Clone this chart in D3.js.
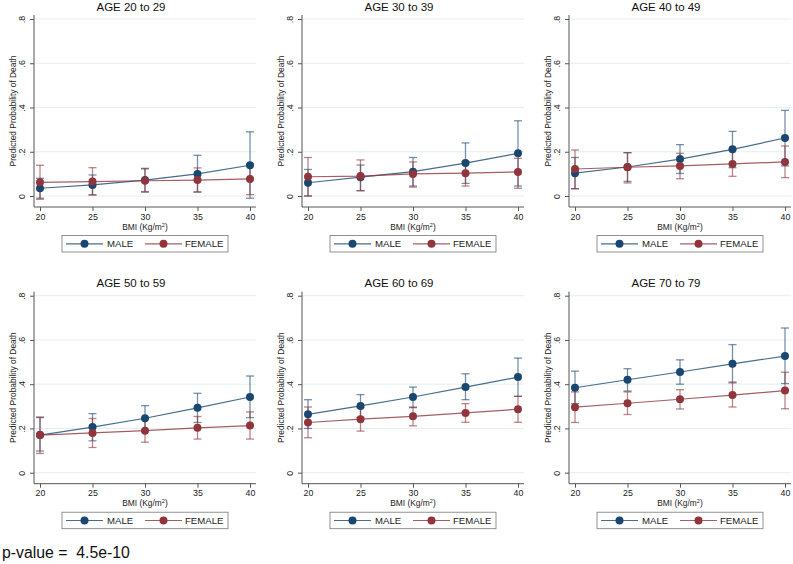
<!DOCTYPE html>
<html>
<head>
<meta charset="utf-8">
<script src="https://cdn.jsdelivr.net/npm/d3@7"></script>
<style>
  html, body { margin: 0; padding: 0; background: #fff; }
  svg { display: block; font-family: "Liberation Sans", Arial, sans-serif; }
</style>
</head>
<body>
<svg id="chart" width="793" height="564"></svg>
<script>
// ---------- DATA ----------
const bmi = [20, 25, 30, 35, 40];
const panelTitles = ["AGE 20 to 29", "AGE 30 to 39", "AGE 40 to 49", "AGE 50 to 59", "AGE 60 to 69", "AGE 70 to 79"];
const yTicks = [0, 0.2, 0.4, 0.6, 0.8];
const seriesNames = ["MALE", "FEMALE"];

const maleEst = [
  [0.035, 0.050, 0.072, 0.100, 0.139],
  [0.060, 0.085, 0.110, 0.149, 0.193],
  [0.103, 0.131, 0.167, 0.211, 0.262],
  [0.170, 0.206, 0.246, 0.293, 0.342],
  [0.264, 0.302, 0.342, 0.387, 0.432],
  [0.384, 0.420, 0.455, 0.492, 0.527]
];
const maleLo = [
  [-0.010, 0.005, 0.020, 0.018, -0.010],
  [0.000, 0.024, 0.045, 0.057, 0.045],
  [0.033, 0.066, 0.102, 0.128, 0.136],
  [0.098, 0.144, 0.189, 0.227, 0.249],
  [0.200, 0.250, 0.294, 0.330, 0.345],
  [0.312, 0.369, 0.400, 0.406, 0.403]
];
const maleHi = [
  [0.080, 0.095, 0.125, 0.184, 0.290],
  [0.120, 0.140, 0.174, 0.240, 0.340],
  [0.174, 0.196, 0.232, 0.292, 0.387],
  [0.249, 0.267, 0.303, 0.359, 0.437],
  [0.330, 0.353, 0.387, 0.447, 0.518],
  [0.459, 0.470, 0.510, 0.579, 0.654]
];
const femaleEst = [
  [0.062, 0.065, 0.069, 0.072, 0.077],
  [0.087, 0.090, 0.100, 0.103, 0.109],
  [0.122, 0.130, 0.136, 0.145, 0.154],
  [0.170, 0.180, 0.190, 0.203, 0.213],
  [0.227, 0.242, 0.255, 0.270, 0.287],
  [0.296, 0.314, 0.332, 0.351, 0.371]
];
const femaleLo = [
  [-0.015, 0.005, 0.017, 0.018, 0.006],
  [0.000, 0.024, 0.040, 0.045, 0.035],
  [0.033, 0.059, 0.078, 0.089, 0.083],
  [0.087, 0.114, 0.138, 0.152, 0.152],
  [0.158, 0.188, 0.212, 0.228, 0.228],
  [0.227, 0.263, 0.288, 0.297, 0.289]
];
const femaleHi = [
  [0.139, 0.128, 0.122, 0.127, 0.145],
  [0.174, 0.163, 0.154, 0.155, 0.170],
  [0.208, 0.196, 0.193, 0.210, 0.226],
  [0.252, 0.245, 0.245, 0.254, 0.275],
  [0.297, 0.294, 0.297, 0.312, 0.345],
  [0.365, 0.365, 0.375, 0.410, 0.454]
];
const pValueText = "p-value =  4.5e-10";

// ---------- LAYOUT ----------
const colMale = "#1a476f";
const colFemale = "#90353b";
const colOffsets = [0, 268, 535];
const rowOffsets = [0, 276.7];
const axisLeftX = 34, axisRightX = 256, axisTopY = 15, axisBottomY = 207;

const svg = d3.select("#chart");

const x = d3.scaleLinear().domain([20, 40]).range([40, 250]);
const y = d3.scaleLinear().domain([0, 0.8]).range([196, 19]);

const yFmt = d => d === 0 ? "0" : d3.format(".1f")(d).replace(/^0/, "");

panelTitles.forEach((title, i) => {
  const g = svg.append("g")
    .attr("transform", `translate(${colOffsets[i % 3]},${rowOffsets[Math.floor(i / 3)]})`);

  // gridlines
  g.append("g").selectAll("line").data(yTicks).join("line")
    .attr("x1", axisLeftX).attr("x2", axisRightX)
    .attr("y1", d => y(d)).attr("y2", d => y(d))
    .attr("stroke", "#e4eef0").attr("stroke-width", 1);

  // y axis
  const ya = g.append("g").attr("transform", `translate(${axisLeftX},0)`)
    .call(d3.axisLeft(y).tickValues(yTicks).tickFormat(yFmt).tickSizeOuter(0).tickSize(4));
  ya.select(".domain").attr("d", `M0,${axisTopY}V${axisBottomY}`).attr("stroke", "#555");
  ya.selectAll(".tick line").attr("stroke", "#555");
  ya.selectAll(".tick text")
    .attr("font-size", 8.8).attr("fill", "#222")
    .attr("font-family", "Liberation Sans, Arial, sans-serif")
    .attr("x", null).attr("dy", null)
    .attr("text-anchor", "middle")
    .attr("transform", "translate(-9,0) rotate(-90)")
    .attr("y", 0);

  // x axis
  const xa = g.append("g").attr("transform", `translate(0,${axisBottomY})`)
    .call(d3.axisBottom(x).tickValues(bmi).tickFormat(d3.format("d")).tickSizeOuter(0).tickSize(4));
  xa.select(".domain").attr("d", `M${axisLeftX},0H${axisRightX}`).attr("stroke", "#555");
  xa.selectAll(".tick line").attr("stroke", "#555");
  xa.selectAll(".tick text")
    .attr("font-size", 8.8).attr("fill", "#222")
    .attr("font-family", "Liberation Sans, Arial, sans-serif")
    .attr("y", 6.5);

  // axis titles
  g.append("text")
    .attr("transform", `translate(16,${(axisTopY + axisBottomY) / 2}) rotate(-90)`)
    .attr("text-anchor", "middle").attr("font-size", 8.4).attr("fill", "#222")
    .text("Predicted Probability of Death");

  const bt = g.append("text")
    .attr("x", (axisLeftX + axisRightX) / 2).attr("y", 229.5)
    .attr("text-anchor", "middle").attr("font-size", 8.4).attr("fill", "#222");
  bt.append("tspan").text("BMI (Kg/m");
  bt.append("tspan").attr("font-size", 5.5).attr("dy", -3).text("2");
  bt.append("tspan").attr("dy", 3).text(")");

  // title
  g.append("text")
    .attr("x", 131).attr("y", 10.5)
    .attr("text-anchor", "middle").attr("font-size", 11.5).attr("fill", "#111")
    .text(title);

  const series = [
    { est: maleEst[i], lo: maleLo[i], hi: maleHi[i], col: colMale },
    { est: femaleEst[i], lo: femaleLo[i], hi: femaleHi[i], col: colFemale }
  ];

  // CIs
  series.forEach(s => {
    const ci = g.append("g").attr("stroke", s.col).attr("stroke-opacity", 0.6).attr("stroke-width", 1.3);
    bmi.forEach((b, k) => {
      ci.append("line").attr("x1", x(b)).attr("x2", x(b)).attr("y1", y(s.lo[k])).attr("y2", y(s.hi[k]));
      ci.append("line").attr("x1", x(b) - 4).attr("x2", x(b) + 4).attr("y1", y(s.lo[k])).attr("y2", y(s.lo[k]));
      ci.append("line").attr("x1", x(b) - 4).attr("x2", x(b) + 4).attr("y1", y(s.hi[k])).attr("y2", y(s.hi[k]));
    });
  });

  // lines + markers
  series.forEach(s => {
    const pts = bmi.map((b, k) => [b, s.est[k]]);
    g.append("path").datum(pts)
      .attr("d", d3.line().x(d => x(d[0])).y(d => y(d[1])))
      .attr("fill", "none").attr("stroke", s.col).attr("stroke-opacity", 0.8).attr("stroke-width", 1.2);
    g.append("g").selectAll("circle").data(pts).join("circle")
      .attr("cx", d => x(d[0])).attr("cy", d => y(d[1])).attr("r", 4)
      .attr("fill", s.col);
  });

  // legend
  const lg = g.append("g");
  lg.append("rect").attr("x", 62).attr("y", 235.5).attr("width", 166).attr("height", 16.5)
    .attr("fill", "#fff").attr("stroke", "#777").attr("stroke-width", 0.8);
  const legendItems = [
    { name: seriesNames[0], col: colMale, x0: 66, x1: 103, tx: 107 },
    { name: seriesNames[1], col: colFemale, x0: 145, x1: 182, tx: 185 }
  ];
  legendItems.forEach(it => {
    lg.append("line").attr("x1", it.x0).attr("x2", it.x1).attr("y1", 243.8).attr("y2", 243.8)
      .attr("stroke", it.col).attr("stroke-opacity", 0.8).attr("stroke-width", 1.2);
    lg.append("circle").attr("cx", (it.x0 + it.x1) / 2).attr("cy", 243.8).attr("r", 4).attr("fill", it.col);
    lg.append("text").attr("x", it.tx).attr("y", 247.2).attr("font-size", 9.6).attr("fill", "#222").text(it.name);
  });
});

svg.append("text").attr("x", 2).attr("y", 558)
  .attr("font-size", 15.8).attr("fill", "#111")
  .attr("xml:space", "preserve").style("white-space", "pre")
  .text(pValueText);
</script>
</body>
</html>
